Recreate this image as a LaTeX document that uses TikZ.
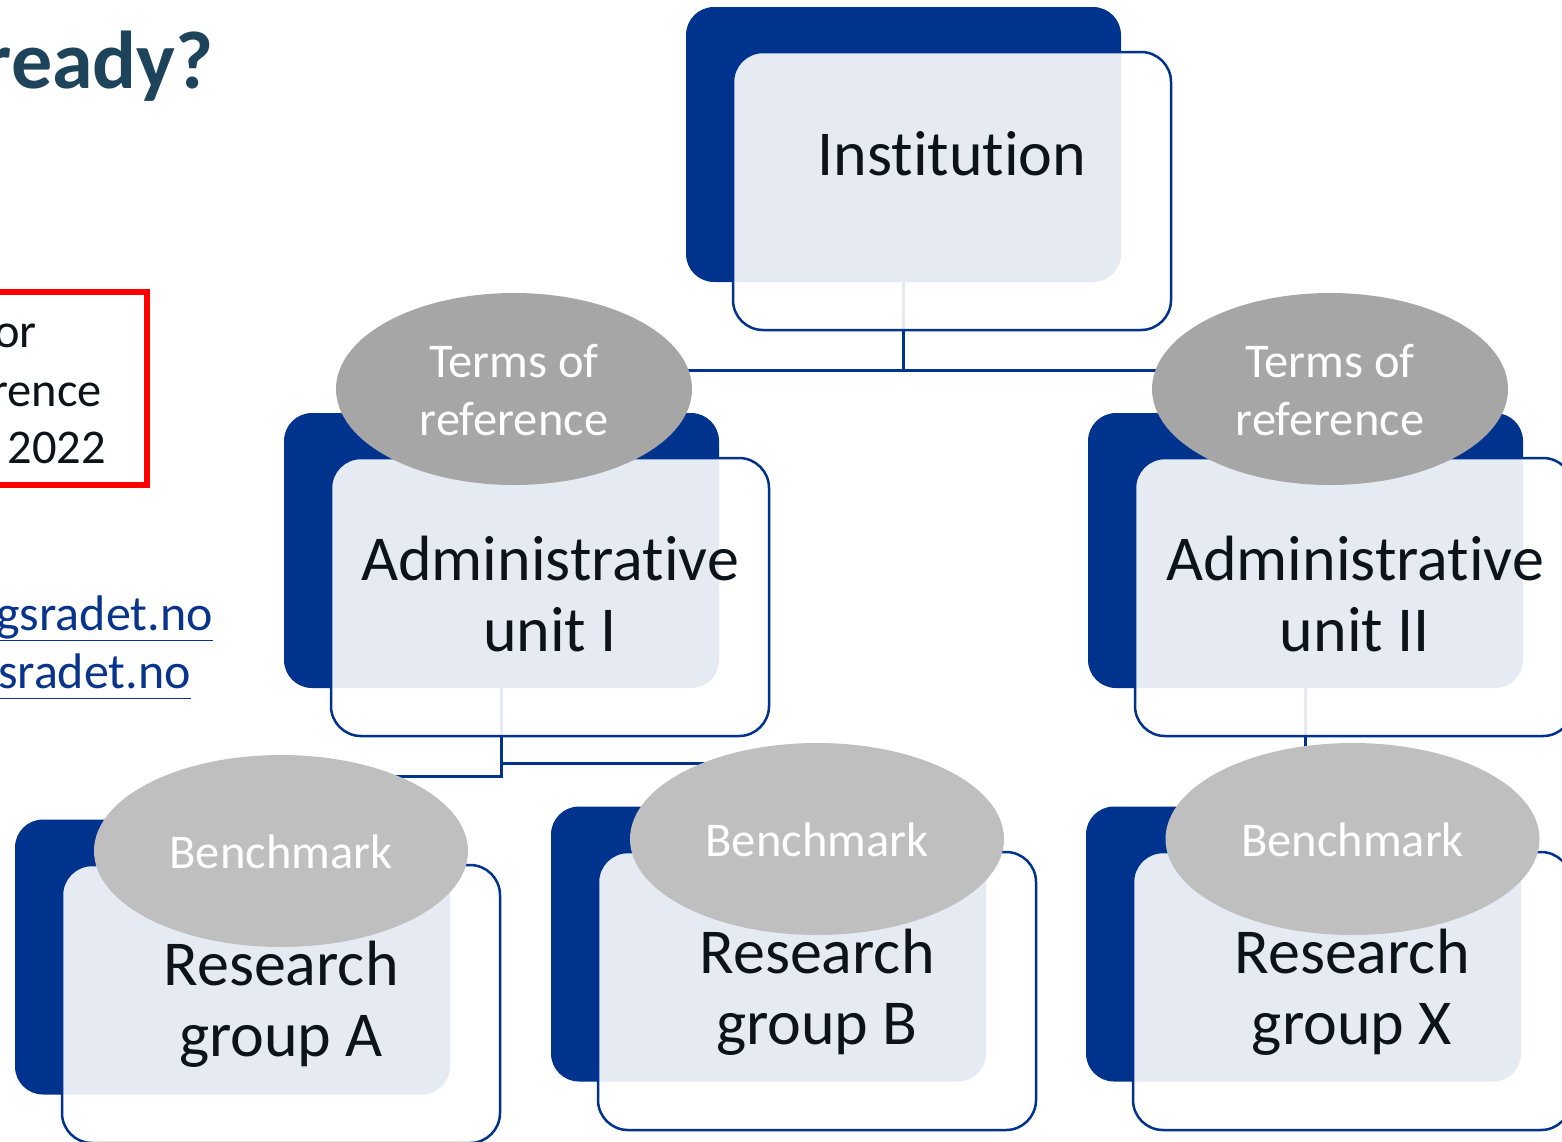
\documentclass[tikz,border=0pt]{standalone}
\usepackage{fontspec}
\setmainfont{Carlito}[Ligatures={NoCommon}]
\usetikzlibrary{shapes.geometric}
\definecolor{dblue}{RGB}{0,51,141}
\definecolor{tgray}{RGB}{166,166,166}
\definecolor{bgray}{RGB}{191,191,191}
\definecolor{ink}{RGB}{12,20,26}
\definecolor{titleblue}{RGB}{30,68,92}
\definecolor{linkblue}{RGB}{8,52,140}
\begin{document}
\begin{tikzpicture}[x=1pt,y=-1pt,
 backbox/.style={fill=dblue, rounded corners=28pt, minimum width=435pt, minimum height=275pt, inner sep=0pt},
 frontbox/.style={draw=dblue, line width=2.5pt, fill=white, fill opacity=0.9, rounded corners=30pt, minimum width=438pt, minimum height=278pt, inner sep=0pt},
 tor/.style={ellipse, fill=tgray, minimum width=356pt, minimum height=192pt, inner sep=0pt},
 bench/.style={ellipse, fill=bgray, minimum width=374pt, minimum height=192pt, inner sep=0pt},
 ovaltext/.style={text=white, font=\fontsize{48.5}{58}\selectfont, align=center, inner sep=0pt},
 boxtext/.style={text=ink, font=\fontsize{64}{71}\selectfont, align=center, inner sep=0pt},
 sidetext/.style={text=ink, font=\fontsize{48.5}{58}\selectfont, inner sep=0pt, anchor=base east},
 linktext/.style={text=linkblue, font=\fontsize{50}{58}\selectfont, inner sep=0pt, anchor=base east},
 conn/.style={draw=dblue, line width=3pt},
]
\useasboundingbox (0,0) rectangle (1562,1141);
\clip (0,0) rectangle (1562,1141);
\fill[white] (0,0) rectangle (1562,1141);

% left side fragments
\node[text=titleblue, font=\fontsize{82}{90}\selectfont\bfseries, inner sep=0pt, anchor=base east] (title) at (214,88) {ready?};
\node[draw=red, line width=6pt, minimum width=200pt, minimum height=193pt, inner sep=0pt] (redbox) at (47,388.5) {};
\node[sidetext] (call1) at (37,347) {or};
\node[sidetext] (call2) at (102,406) {rence};
\node[sidetext] (call3) at (106,463) {2022};
\node[linktext] (link1) at (213,630) {\underline{ngsradet.no}};
\node[linktext] (link2) at (191,688) {\underline{gsradet.no}};

% back boxes (named for connectors)
\node[backbox] (instB) at (903.5,144.5) {};
\node[backbox] (admIB) at (501.5,550.5) {};
\node[backbox] (admIIB) at (1305.5,550.5) {};
\node[backbox] (grpAB) at (232.5,957) {};
\node[backbox] (grpBB) at (768.5,944) {};
\node[backbox] (grpXB) at (1303.5,944) {};

% connectors
\coordinate (j0) at (903.5,370);
\draw[conn] (instB.south) -- (j0) -| (admIB.north);
\draw[conn] (j0) -| (admIIB.north);
\coordinate (j1) at (501.5,763);
\coordinate (j2) at (501.5,776);
\draw[conn] (admIB.south) -- (j1) -| (grpBB.north);
\draw[conn] (j1) -- (j2) -| (grpAB.north);
\draw[conn] (admIIB.south) -- (admIIB.south |- grpXB.north);

% front boxes
\node[frontbox] (instF) at (952,191) {};
\node[frontbox] (admIF) at (550,597) {};
\node[frontbox] (admIIF) at (1354,597) {};
\node[frontbox] (grpAF) at (281,1004) {};
\node[frontbox] (grpBF) at (817,991) {};
\node[frontbox] (grpXF) at (1352,991) {};

% ovals
\node[tor] (torI) at (514,389) {};
\node[tor] (torII) at (1330,389) {};
\node[bench] (benA) at (281,851) {};
\node[bench] (benB) at (817,839) {};
\node[bench] (benX) at (1352.5,839) {};

% texts
\node[boxtext] (instT) at (952,154) {Institution};
\node[boxtext] (admIT) at (550,594) {Administrative\\unit I};
\node[boxtext] (admIIT) at (1355,594) {Administrative\\unit II};
\node[boxtext] (grpAT) at (281,1004) {Research\\group A};
\node[boxtext] (grpBT) at (817,992) {Research\\group B};
\node[boxtext] (grpXT) at (1352,992) {Research\\group X};
\node[ovaltext] (torIT) at (514,390) {Terms of\\reference};
\node[ovaltext] (torIIT) at (1330,390) {Terms of\\reference};
\node[ovaltext] (benAT) at (281,852) {Benchmark};
\node[ovaltext] (benBT) at (817,840) {Benchmark};
\node[ovaltext] (benXT) at (1352.5,840) {Benchmark};
\end{tikzpicture}
\end{document}
